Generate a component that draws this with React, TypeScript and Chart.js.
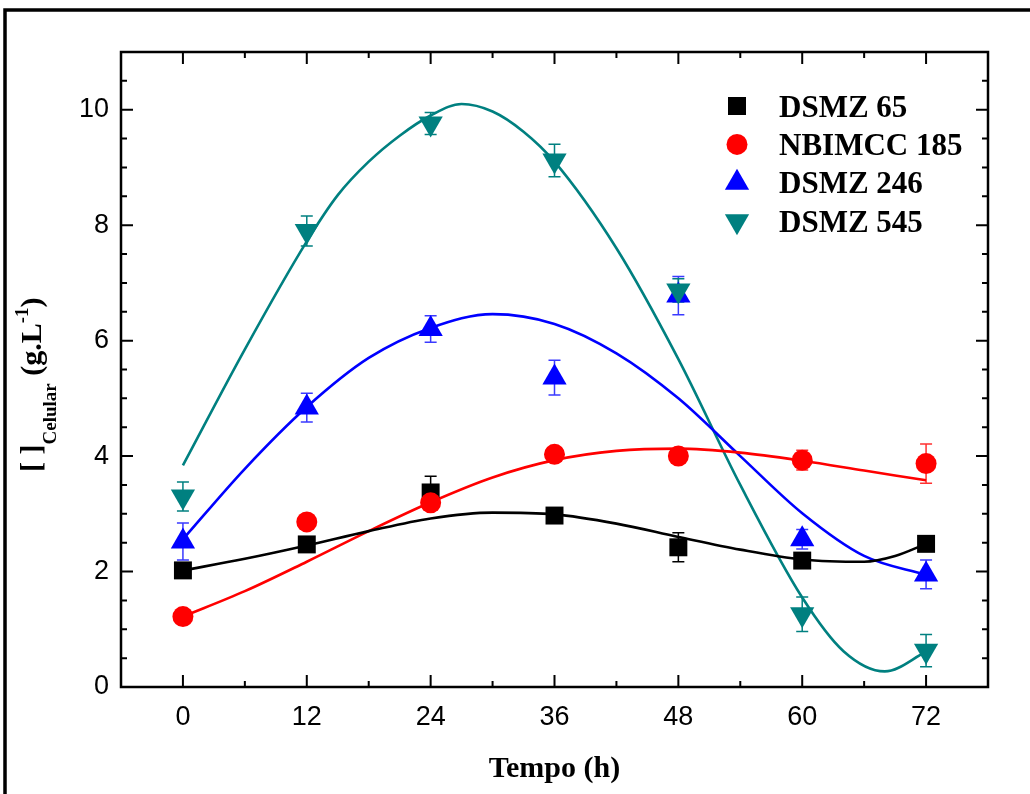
import React, { useEffect, useRef } from "react";
import { Chart, registerables } from "chart.js";

Chart.register(...registerables);

// ---------- data ----------
const hours = [0, 12, 24, 36, 48, 60, 72];
const seriesNames = ["DSMZ 65", "NBIMCC 185", "DSMZ 246", "DSMZ 545"];

const dsmz65 = [2.02, 2.47, 3.37, 2.97, 2.42, 2.19, 2.48];
const dsmz65Err = [0.06, 0.06, 0.28, 0.06, 0.25, 0.06, 0.06];
const nbimcc185 = [1.22, 2.86, 3.19, 4.03, 4.0, 3.93, 3.87];
const nbimcc185Err = [0.05, 0.05, 0.1, 0.08, 0.08, 0.17, 0.34];
const dsmz246 = [2.52, 4.84, 6.2, 5.36, 6.78, 2.56, 1.95];
const dsmz246Err = [0.32, 0.25, 0.23, 0.3, 0.33, 0.17, 0.25];
const dsmz545 = [3.3, 7.9, 9.76, 9.12, 6.87, 1.26, 0.63];
const dsmz545Err = [0.25, 0.26, 0.19, 0.28, 0.2, 0.3, 0.28];

// fitted curves
const dsmz65FitHours = [0, 6, 12, 18, 24, 30, 36, 42, 48, 54, 60, 66, 69, 72];
const dsmz65Fit = [2.02, 2.22, 2.45, 2.7, 2.92, 3.02, 2.99, 2.83, 2.6, 2.38, 2.21, 2.17, 2.27, 2.48];
const nbimcc185FitHours = [0, 6, 12, 18, 24, 30, 36, 42, 48, 54, 60, 66, 72];
const nbimcc185Fit = [1.22, 1.66, 2.17, 2.7, 3.2, 3.63, 3.93, 4.09, 4.13, 4.06, 3.92, 3.75, 3.58];
const dsmz246FitHours = [0, 6, 12, 18, 24, 30, 36, 42, 48, 54, 60, 66, 72];
const dsmz246Fit = [2.56, 3.78, 4.85, 5.7, 6.22, 6.46, 6.29, 5.78, 5.0, 4.0, 3.01, 2.27, 1.94];
const dsmz545FitHours = [0, 6, 12, 15, 18, 21, 24, 27, 30, 33, 36, 42, 48, 54, 60, 64, 68, 72];
const dsmz545Fit = [3.84, 5.85, 7.72, 8.52, 9.1, 9.55, 9.9, 10.1, 9.97, 9.62, 9.1, 7.6, 5.68, 3.5, 1.55, 0.62, 0.27, 0.61];

const xTickLabels = ["0", "12", "24", "36", "48", "60", "72"];
const yTickLabels = ["0", "2", "4", "6", "8", "10"];

// ---------- styles ----------
const colors = ["#000000", "#ff0000", "#0000ff", "#008080"];
const errColors = ["#000000", "#ff3030", "#3a3aff", "#008080"];
const markerStyles = ["rect", "circle", "triangle", "triangleDown"];
const SERIF = "'Liberation Serif', 'Times New Roman', serif";
const SANS = "'Liberation Sans', Arial, sans-serif";

const X_MIN = -6, X_MAX = 78, Y_MIN = 0, Y_MAX = 11;

function drawMarker(ctx: CanvasRenderingContext2D, style: string, x: number, y: number, color: string) {
  ctx.save();
  ctx.fillStyle = color;
  ctx.beginPath();
  if (style === "rect") {
    ctx.rect(x - 9, y - 9, 18, 18);
  } else if (style === "circle") {
    ctx.arc(x, y, 10.5, 0, Math.PI * 2);
  } else if (style === "triangle") {
    const r = 14;
    ctx.moveTo(x, y - r);
    ctx.lineTo(x + r * 0.866, y + r * 0.5);
    ctx.lineTo(x - r * 0.866, y + r * 0.5);
    ctx.closePath();
  } else {
    const r = 14;
    ctx.moveTo(x, y + r);
    ctx.lineTo(x + r * 0.866, y - r * 0.5);
    ctx.lineTo(x - r * 0.866, y - r * 0.5);
    ctx.closePath();
  }
  ctx.fill();
  ctx.restore();
}

const seriesValues = [dsmz65, nbimcc185, dsmz246, dsmz545];
const seriesErrs = [dsmz65Err, nbimcc185Err, dsmz246Err, dsmz545Err];

const decorPlugin = {
  id: "decor",
  beforeDraw(chart: any) {
    const ctx = chart.ctx as CanvasRenderingContext2D;
    ctx.save();
    ctx.fillStyle = "#ffffff";
    ctx.fillRect(0, 0, chart.width, chart.height);
    ctx.strokeStyle = "#000";
    ctx.lineWidth = 3.5;
    ctx.strokeRect(5, 10, 1060, 820);
    ctx.restore();
  },
  beforeDatasetsDraw(chart: any) {
    const ctx = chart.ctx as CanvasRenderingContext2D;
    const xs = chart.scales.x, ys = chart.scales.y;
    ctx.save();
    ctx.lineWidth = 1.5;
    seriesValues.forEach((vals, si) => {
      ctx.strokeStyle = errColors[si];
      vals.forEach((v, i) => {
        const e = seriesErrs[si][i];
        const px = xs.getPixelForValue(hours[i]);
        const top = ys.getPixelForValue(v + e);
        const bot = ys.getPixelForValue(v - e);
        ctx.beginPath();
        ctx.moveTo(px, top);
        ctx.lineTo(px, bot);
        ctx.moveTo(px - 6, top);
        ctx.lineTo(px + 6, top);
        ctx.moveTo(px - 6, bot);
        ctx.lineTo(px + 6, bot);
        ctx.stroke();
      });
    });
    ctx.restore();
  },
  afterDatasetsDraw(chart: any) {
    const ctx = chart.ctx as CanvasRenderingContext2D;
    const a = chart.chartArea;
    const xs = chart.scales.x, ys = chart.scales.y;
    ctx.save();
    // axis box
    ctx.strokeStyle = "#000";
    ctx.lineWidth = 2.5;
    ctx.strokeRect(a.left, a.top, a.right - a.left, a.bottom - a.top);
    // ticks
    ctx.lineWidth = 2;
    ctx.beginPath();
    for (let v = 0; v <= 72; v += 6) {
      const px = xs.getPixelForValue(v);
      const len = v % 12 === 0 ? 12 : 6;
      ctx.moveTo(px, a.bottom);
      ctx.lineTo(px, a.bottom - len);
      ctx.moveTo(px, a.top);
      ctx.lineTo(px, a.top + len);
    }
    for (let v = 0; v <= 10.5; v += 0.5) {
      const py = ys.getPixelForValue(v);
      const len = v % 2 === 0 ? 12 : 6;
      ctx.moveTo(a.left, py);
      ctx.lineTo(a.left + len, py);
      ctx.moveTo(a.right, py);
      ctx.lineTo(a.right - len, py);
    }
    ctx.stroke();

    // legend
    const lx = 737, tx = 779, ly0 = 106, lstep = 38.4;
    seriesNames.forEach((name, i) => {
      const cy = ly0 + i * lstep;
      drawMarker(ctx, markerStyles[i], lx, cy, colors[i]);
      ctx.fillStyle = "#000";
      ctx.font = `bold 31px ${SERIF}`;
      ctx.textAlign = "left";
      ctx.textBaseline = "alphabetic";
      ctx.fillText(name, tx, cy + 10.5);
    });

    // x title
    ctx.font = `bold 30px ${SERIF}`;
    ctx.textAlign = "center";
    ctx.textBaseline = "alphabetic";
    ctx.fillStyle = "#000";
    ctx.fillText("Tempo (h)", (a.left + a.right) / 2, 777);

    // y title (rotated, with subscript and superscript)
    ctx.translate(41, 472);
    ctx.rotate(-Math.PI / 2);
    ctx.textAlign = "left";
    let cx = 0;
    const seg = (t: string, size: number, dy: number) => {
      ctx.font = `bold ${size}px ${SERIF}`;
      ctx.fillText(t, cx, dy);
      cx += ctx.measureText(t).width;
    };
    seg("[ ]", 30, 0);
    seg("Celular", 19, 15);
    seg(" (g.L", 30, 0);
    seg("-1", 19, -13);
    seg(")", 30, 0);
    ctx.restore();
  },
};

function makeScatter(label: string, vals: number[], i: number) {
  const isDown = markerStyles[i] === "triangleDown";
  const style = isDown ? "triangle" : markerStyles[i];
  const radius = style === "rect" ? 12.7 : style === "circle" ? 10.5 : 14;
  return {
    label,
    data: hours.map((h, j) => ({ x: h, y: vals[j] })),
    backgroundColor: colors[i],
    borderColor: colors[i],
    pointStyle: style,
    pointRotation: isDown ? 180 : 0,
    pointRadius: radius,
    pointBorderWidth: 0,
    showLine: false,
    order: 4 - i,
  };
}

function makeFit(label: string, xsArr: number[], vals: number[], i: number) {
  return {
    label,
    data: xsArr.map((h, j) => ({ x: h, y: vals[j] })),
    borderColor: colors[i],
    backgroundColor: colors[i],
    showLine: true,
    pointRadius: 0,
    borderWidth: 2.6,
    cubicInterpolationMode: "monotone",
    fill: false,
    order: 10 + i,
  };
}

export default function App() {
  const ref = useRef<HTMLCanvasElement | null>(null);
  useEffect(() => {
    if (!ref.current) return;
    const chart = new Chart(ref.current, {
      type: "scatter",
      data: {
        datasets: [
          makeFit("DSMZ 65 fit", dsmz65FitHours, dsmz65Fit, 0),
          makeFit("NBIMCC 185 fit", nbimcc185FitHours, nbimcc185Fit, 1),
          makeFit("DSMZ 246 fit", dsmz246FitHours, dsmz246Fit, 2),
          makeFit("DSMZ 545 fit", dsmz545FitHours, dsmz545Fit, 3),
          makeScatter(seriesNames[0], dsmz65, 0),
          makeScatter(seriesNames[1], nbimcc185, 1),
          makeScatter(seriesNames[2], dsmz246, 2),
          makeScatter(seriesNames[3], dsmz545, 3),
        ] as any,
      },
      options: {
        responsive: false,
        animation: false,
        devicePixelRatio: 1,
        layout: { padding: { left: 21, top: 52, right: 42, bottom: 0 } },
        plugins: { legend: { display: false }, tooltip: { enabled: false } },
        scales: {
          x: {
            type: "linear",
            min: X_MIN,
            max: X_MAX,
            afterBuildTicks: (s: any) => {
              s.ticks = xTickLabels.map((t) => ({ value: Number(t) }));
            },
            afterFit: (s: any) => {
              s.height = 107;
            },
            ticks: {
              color: "#000",
              font: { family: SANS, size: 27 },
              padding: 14,
              maxRotation: 0,
              autoSkip: false,
              callback: (v: any) => String(v),
            },
            grid: { display: false, drawTicks: false },
            border: { display: false },
          },
          y: {
            type: "linear",
            min: Y_MIN,
            max: Y_MAX,
            afterBuildTicks: (s: any) => {
              s.ticks = yTickLabels.map((t) => ({ value: Number(t) }));
            },
            afterFit: (s: any) => {
              s.width = 100;
            },
            ticks: {
              color: "#000",
              font: { family: SANS, size: 27 },
              padding: 12,
              autoSkip: false,
              callback: (v: any) => String(v),
            },
            grid: { display: false, drawTicks: false },
            border: { display: false },
          },
        },
      } as any,
      plugins: [decorPlugin as any],
    });
    return () => chart.destroy();
  }, []);
  return (
    <canvas
      ref={ref}
      width={1030}
      height={794}
      style={{ position: "fixed", left: 0, top: 0, width: 1030, height: 794, display: "block" }}
    />
  );
}
